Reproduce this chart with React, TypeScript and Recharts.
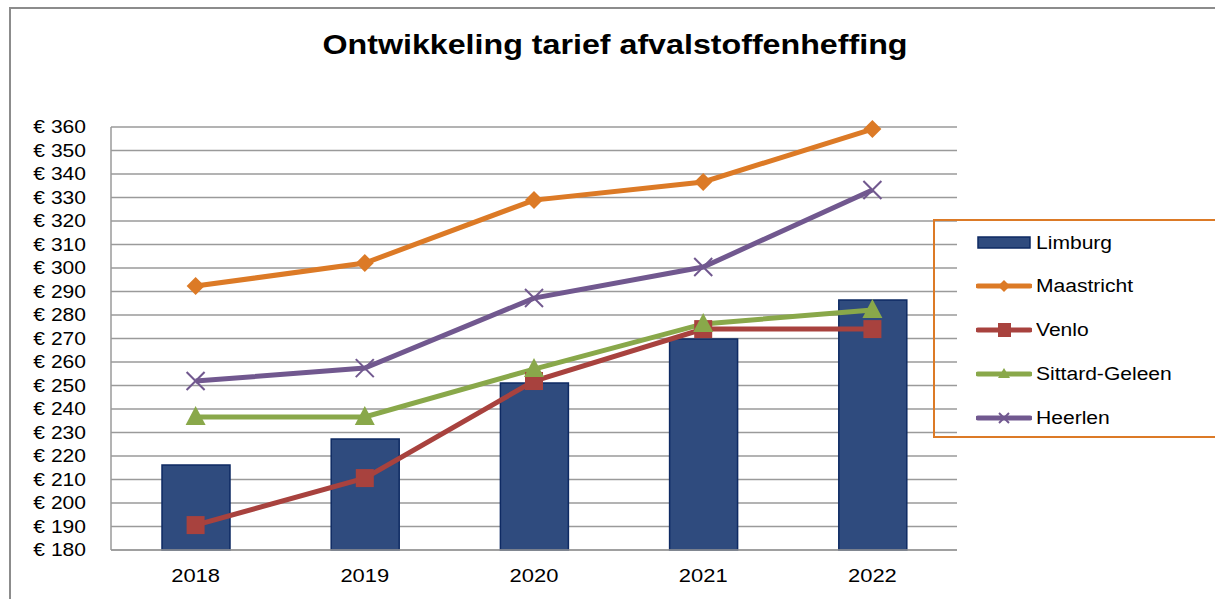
import React from "react";
import {
  ComposedChart,
  Bar,
  Line,
  XAxis,
  YAxis,
  CartesianGrid,
} from "recharts";

// years on the x axis
const years = ["2018", "2019", "2020", "2021", "2022"];

// tariff per municipality (euro)
const limburg = [216.2, 227.2, 251.1, 269.8, 286.4];
const maastricht = [292.3, 302.1, 328.9, 336.6, 359.1];
const venlo = [190.6, 210.6, 251.9, 274.0, 274.0];
const sittardGeleen = [236.6, 236.6, 257.0, 276.2, 282.1];
const heerlen = [251.9, 257.4, 287.2, 300.4, 333.2];

const yTicks = [180, 190, 200, 210, 220, 230, 240, 250, 260, 270, 280, 290, 300, 310, 320, 330, 340, 350, 360];

const data = years.map((year, i) => ({
  year,
  Limburg: limburg[i],
  Maastricht: maastricht[i],
  Venlo: venlo[i],
  "Sittard-Geleen": sittardGeleen[i],
  Heerlen: heerlen[i],
}));

const FONT = "'Liberation Sans', Arial, sans-serif";
// the original rendering is a bit wider than plain Arial
const STRETCH = 1.17;

const BAR_FILL = "#2F4B7E";
const BAR_STROKE = "#0E2A63";

const lines = [
  { key: "Maastricht", color: "#DC7A26", marker: "diamond" },
  { key: "Venlo", color: "#A8423E", marker: "square" },
  { key: "Sittard-Geleen", color: "#89A84A", marker: "triangle" },
  { key: "Heerlen", color: "#71588F", marker: "cross" },
];

function Marker({ cx, cy, type, color }: { cx: number; cy: number; type: string; color: string }) {
  if (cx == null || cy == null) return null;
  if (type === "diamond") {
    const r = 9;
    return <polygon points={`${cx},${cy - r} ${cx + r},${cy} ${cx},${cy + r} ${cx - r},${cy}`} fill={color} />;
  }
  if (type === "square") {
    const r = 9;
    return <rect x={cx - r} y={cy - r} width={r * 2} height={r * 2} fill={color} />;
  }
  if (type === "triangle") {
    return (
      <polygon
        points={`${cx},${cy - 11} ${cx + 10},${cy + 8} ${cx - 10},${cy + 8}`}
        fill={color}
      />
    );
  }
  const r = 9;
  return (
    <g stroke={color} strokeWidth={2}>
      <line x1={cx - r} y1={cy - r} x2={cx + r} y2={cy + r} />
      <line x1={cx - r} y1={cy + r} x2={cx + r} y2={cy - r} />
    </g>
  );
}

function YTick({ x, y, payload }: any) {
  return (
    <text
      transform={`translate(${x},${y}) scale(${STRETCH},1)`}
      textAnchor="end"
      dominantBaseline="central"
      fontSize={18}
      fontFamily={FONT}
      fill="#000"
    >
      {`€ ${payload.value}`}
    </text>
  );
}

function XTick({ x, y, payload }: any) {
  return (
    <text
      transform={`translate(${x},${y}) scale(${STRETCH + 0.05},1)`}
      textAnchor="middle"
      dominantBaseline="central"
      fontSize={18}
      fontFamily={FONT}
      fill="#000"
    >
      {payload.value}
    </text>
  );
}

function LegendBox() {
  return (
    <div
      style={{
        position: "absolute",
        left: 933,
        top: 219,
        width: 300,
        height: 219,
        border: "2px solid #DC7A26",
        boxSizing: "border-box",
        fontFamily: FONT,
        fontSize: 18,
        color: "#000",
      }}
    >
      <div style={{ position: "absolute", left: 41, top: 12, display: "flex", alignItems: "center", height: 20 }}>
        <svg width={56} height={20}>
          <rect x={2} y={4} width={52} height={11} fill={BAR_FILL} stroke={BAR_STROKE} strokeWidth={1.5} />
        </svg>
        <span style={{ marginLeft: 4, display: "inline-block", transform: `scaleX(${STRETCH})`, transformOrigin: "left center" }}>
          Limburg
        </span>
      </div>
      {lines.map((l, i) => (
        <div
          key={l.key}
          style={{ position: "absolute", left: 41, top: 55 + i * 44, display: "flex", alignItems: "center", height: 20 }}
        >
          <svg width={56} height={20}>
            <line x1={2} y1={10} x2={54} y2={10} stroke={l.color} strokeWidth={5} strokeLinecap="round" />
            {l.marker === "cross" ? (
              <g stroke={l.color} strokeWidth={2}>
                <line x1={23} y1={5} x2={33} y2={15} />
                <line x1={23} y1={15} x2={33} y2={5} />
              </g>
            ) : l.marker === "square" ? (
              <rect x={22} y={3} width={13} height={14} fill={l.color} />
            ) : l.marker === "diamond" ? (
              <polygon points="28,4 34,10 28,16 22,10" fill={l.color} />
            ) : (
              <polygon points="28,4 34,14 22,14" fill={l.color} />
            )}
          </svg>
          <span style={{ marginLeft: 4, display: "inline-block", transform: `scaleX(${STRETCH})`, transformOrigin: "left center" }}>
            {l.key}
          </span>
        </div>
      ))}
    </div>
  );
}

export default function App() {
  return (
    <div
      style={{
        position: "absolute",
        left: 0,
        top: 0,
        width: 1215,
        height: 599,
        overflow: "hidden",
        background: "#fff",
        fontFamily: FONT,
      }}
    >
      {/* outer chart frame, cut off on the right and bottom */}
      <div
        style={{
          position: "absolute",
          left: 9,
          top: 7,
          width: 1300,
          height: 700,
          borderLeft: "2px solid #8c8c8c",
          borderTop: "2px solid #8c8c8c",
        }}
      />
      <div
        style={{
          position: "absolute",
          left: 0,
          width: 1230,
          top: 29,
          textAlign: "center",
          fontSize: 28,
          fontWeight: "bold",
          color: "#000",
          transform: `scaleX(${STRETCH - 0.02})`,
        }}
      >
        Ontwikkeling tarief afvalstoffenheffing
      </div>
      <div style={{ position: "absolute", left: 0, top: 0 }}>
        <ComposedChart
          width={1215}
          height={599}
          data={data}
          margin={{ top: 127, right: 258, bottom: 0, left: 0 }}
        >
          <CartesianGrid vertical={false} stroke="#9a9a9a" strokeWidth={1.5} />
          <XAxis
            dataKey="year"
            height={49}
            tickSize={0}
            tickMargin={26}
            axisLine={{ stroke: "#9a9a9a", strokeWidth: 1.5 }}
            tickLine={false}
            tick={<XTick />}
          />
          <YAxis
            width={111}
            domain={[180, 360]}
            ticks={yTicks}
            interval={0}
            tickSize={0}
            tickMargin={25}
            axisLine={{ stroke: "#9a9a9a", strokeWidth: 1.5 }}
            tickLine={false}
            tick={<YTick />}
          />
          <Bar
            dataKey="Limburg"
            barSize={68}
            fill={BAR_FILL}
            stroke={BAR_STROKE}
            strokeWidth={1.5}
            isAnimationActive={false}
          />
          {lines.map((l) => (
            <Line
              key={l.key}
              dataKey={l.key}
              stroke={l.color}
              strokeWidth={5}
              type="linear"
              isAnimationActive={false}
              dot={(p: any) => (
                <Marker key={`${l.key}-${p.index}`} cx={p.cx} cy={p.cy} type={l.marker} color={l.color} />
              )}
              activeDot={false}
            />
          ))}
        </ComposedChart>
      </div>
      <LegendBox />
    </div>
  );
}
